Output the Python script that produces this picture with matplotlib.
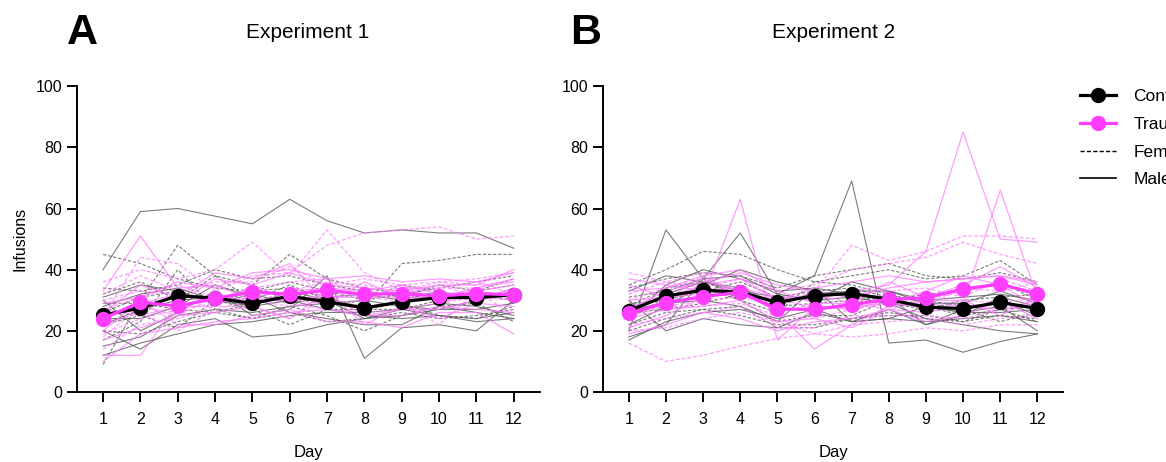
import matplotlib
matplotlib.use('Agg')
import matplotlib.pyplot as plt
from matplotlib.lines import Line2D

plt.rcParams['font.family'] = ['Liberation Sans', 'DejaVu Sans']

days = list(range(1, 13))

# Experiment 1 - group means
exp1_control_mean = [25.2, 27.4, 31.5, 30.7, 29.0, 31.3, 29.5, 27.5, 29.5, 30.9, 30.9, 31.8]
exp1_trauma_mean = [24.0, 29.4, 28.1, 30.6, 32.8, 31.9, 33.3, 31.9, 32.2, 31.4, 32.2, 31.8]

# Experiment 1 - individual animals
exp1_control_male = [
    [40, 59, 60, 57.5, 55, 63, 56, 52, 53, 52, 52, 47],
    [30, 20, 26, 33, 25, 27, 38, 11, 21, 22, 20, 30],
    [20, 14, 22, 24, 18, 19, 22, 24, 27, 29, 28, 25],
    [28, 32, 34, 30, 28, 30, 27, 25, 24, 25, 24, 26],
    [15, 18, 25, 27, 26, 28, 29, 30, 28, 27, 30, 33],
    [24, 24, 28, 35, 31, 26, 24, 22, 22, 28, 26, 24],
    [22, 27, 30, 31, 28, 33, 30, 24, 25, 27, 27, 29],
    [12, 16, 19, 22, 23, 25, 26, 26, 27, 25, 23, 24],
    [31, 35, 33, 29, 32, 29, 31, 32, 30, 33, 30, 32],
]
exp1_control_female = [
    [45, 42, 37, 34, 33, 36, 33, 30, 35, 33, 30, 34],
    [9, 30, 48, 38, 30, 35, 30, 28, 42, 43, 45, 45],
    [32, 36, 30, 38, 35, 45, 37, 34, 32, 30, 33, 37],
    [22, 25, 21, 30, 27, 22, 27, 27, 29, 25, 24, 28],
    [17, 23, 40, 27, 24, 28, 25, 20, 25, 28, 29, 23],
    [29, 29, 27, 26, 29, 33, 28, 30, 32, 34, 36, 38],
    [26, 31, 33, 29, 33, 34, 31, 27, 27, 30, 32, 30],
    [20, 19, 23, 26, 24, 26, 23, 24, 26, 24, 25, 27],
    [34, 33, 35, 40, 37, 38, 35, 33, 31, 35, 33, 35],
]
exp1_trauma_male = [
    [33, 51, 34, 35, 30, 30, 31, 31, 31, 30, 31, 30],
    [12, 12, 29, 37, 35, 39, 35, 34, 33, 35, 35, 40],
    [20, 30, 22, 22, 25, 27, 23, 23, 21, 26, 26, 19],
    [26, 35, 31, 39, 37, 42, 29, 36, 31, 31, 34, 37],
    [17, 21, 25, 26, 28, 24, 33, 22, 28, 24, 29, 28],
    [27, 25, 28, 28, 35, 30, 32, 25, 27, 27, 30, 34],
    [29, 31, 36, 34, 39, 40, 37, 38, 36, 37, 36, 39],
    [10, 19, 21, 23, 24, 26, 27, 25, 25, 28, 27, 26],
    [24, 29, 32, 29, 31, 33, 34, 33, 35, 32, 33, 35],
]
exp1_trauma_female = [
    [36, 40, 37, 40, 49, 38, 53, 39, 33, 36, 35, 36],
    [25, 44, 42, 33, 38, 39, 48, 52, 53, 54, 50, 51],
    [18, 28, 25, 31, 30, 30, 29, 30, 35, 29, 33, 31],
    [30, 33, 32, 30, 34, 36, 37, 30, 34, 34, 34, 36],
    [14, 22, 24, 28, 28, 24, 31, 32, 29, 22, 33, 25],
    [22, 26, 20, 27, 30, 28, 30, 33, 32, 35, 31, 33],
    [32, 38, 33, 36, 36, 41, 35, 37, 35, 36, 37, 39],
    [19, 24, 27, 29, 31, 29, 27, 26, 27, 29, 31, 31],
    [27, 31, 35, 31, 29, 33, 36, 35, 32, 34, 36, 32],
]

# Experiment 2 - group means
exp2_control_mean = [26.6, 31.4, 33.3, 32.6, 29.3, 31.5, 32.2, 30.3, 27.7, 27.3, 29.3, 27.3]
exp2_trauma_mean = [25.7, 29.2, 31.2, 32.6, 27.1, 27.0, 28.6, 30.3, 30.8, 33.7, 35.3, 32.0]

# Experiment 2 - individual animals
exp2_control_male = [
    [20, 53, 37, 38, 32, 38, 69, 16, 17, 13, 16.5, 19],
    [18, 22, 37, 52, 32, 30, 31, 29, 28, 26, 26, 27],
    [27, 29, 30, 28, 23, 34, 32, 31, 22, 27, 30, 25],
    [24, 35, 40, 37, 33, 34, 23, 27, 22, 25, 31, 28],
    [30, 20, 24, 22, 21, 26, 23, 24, 28, 26, 28, 20],
    [33, 38, 36, 33, 31, 30, 36, 33, 29, 29, 33, 29],
    [22, 28, 35, 40, 36, 33, 31, 29, 24, 22, 20, 19],
    [26, 32, 36, 34, 29, 32, 33, 33, 30, 31, 32, 30],
    [17, 23, 26, 27, 24, 27, 23, 24, 23, 24, 25, 23],
]
exp2_control_female = [
    [35, 40, 46, 45, 40, 36, 38, 40, 37, 38, 43, 35],
    [28, 34, 36, 32, 28, 33, 31, 30, 28, 25, 27, 23],
    [24, 31, 34, 30, 23, 25, 25, 30, 32, 33, 36, 30],
    [31, 33, 37, 30, 26, 36, 35, 32, 29, 27, 23, 26],
    [22, 26, 27, 28, 21, 21, 24, 26, 24, 23, 27, 28],
    [26, 27, 29, 32, 28, 29, 30, 29, 27, 30, 31, 32],
    [34, 37, 39, 38, 34, 38, 40, 42, 38, 37, 39, 36],
    [20, 24, 27, 25, 22, 22, 24, 25, 25, 23, 25, 24],
    [29, 30, 33, 36, 31, 33, 34, 31, 30, 28, 29, 27],
]
exp2_trauma_male = [
    [25, 30, 38, 31, 31, 30, 33, 35, 46, 85, 50, 49],
    [21, 25, 31, 63, 17, 28, 27, 30, 27, 29, 66, 31],
    [30, 31, 32, 33, 26, 14, 22, 28, 30, 30, 25, 31],
    [37, 35, 33, 34, 31, 27, 28, 29, 33, 38, 35, 28],
    [24, 27, 28, 30, 23, 24, 21, 27, 23, 25, 30, 24],
    [33, 34, 38, 40, 33, 29, 29, 36, 31, 35, 41, 34],
    [27, 33, 36, 39, 35, 33, 31, 34, 36, 37, 38, 36],
    [19, 22, 26, 24, 20, 23, 24, 27, 26, 28, 27, 29],
    [35, 31, 35, 37, 30, 34, 36, 38, 36, 37, 38, 35],
]
exp2_trauma_female = [
    [16, 10, 12, 15, 17.5, 19, 18, 19, 21, 20, 22, 22],
    [28, 31, 33, 35, 28, 33, 48, 43, 46, 51, 51, 50],
    [32, 36, 34, 37, 33, 35, 40, 42, 44, 49, 45, 42],
    [26, 28, 30, 31, 28, 26, 30, 32, 28, 34, 33, 36],
    [39, 36, 39, 38, 30, 32, 29, 27, 30, 33, 35, 33],
    [22, 24, 26, 28, 21, 21, 25, 25, 25, 24, 27, 30],
    [30, 34, 37, 33, 26, 29, 32, 33, 34, 31, 37, 33],
    [25, 28, 28, 29, 25, 24, 27, 29, 28, 30, 29, 31],
    [20, 21, 24, 26, 23, 19, 22, 23, 24, 22, 24, 25],
]

grey = '#5a5a5a'
pink_light = '#ff7bff'
magenta = '#ff3dff'
dash = (0, (3, 1.6))

fig = plt.figure(figsize=(11.66, 4.62), dpi=100)
ax_a = fig.add_axes([0.066, 0.1515, 0.397, 0.662])
ax_b = fig.add_axes([0.517, 0.1515, 0.395, 0.662])

panels = [
    (ax_a, exp1_control_male, exp1_control_female, exp1_trauma_male, exp1_trauma_female,
     exp1_control_mean, exp1_trauma_mean),
    (ax_b, exp2_control_male, exp2_control_female, exp2_trauma_male, exp2_trauma_female,
     exp2_control_mean, exp2_trauma_mean),
]

for ax, cm, cf, tm, tf, c_mean, t_mean in panels:
    for row in cm:
        ax.plot(days, row, color=grey, lw=0.8, alpha=0.8)
    for row in cf:
        ax.plot(days, row, color=grey, lw=0.8, alpha=0.8, linestyle=dash)
    for row in tm:
        ax.plot(days, row, color=pink_light, lw=0.9, alpha=0.75)
    for row in tf:
        ax.plot(days, row, color=pink_light, lw=0.9, alpha=0.75, linestyle=dash)
    ax.plot(days, c_mean, color='black', lw=2.3, marker='o', markersize=10, zorder=5)
    ax.plot(days, t_mean, color=magenta, lw=2.3, marker='o', markersize=10, zorder=6)

    ax.set_xlim(0.3, 12.7)
    ax.set_ylim(0, 100)
    ax.set_xticks(days)
    ax.set_yticks([0, 20, 40, 60, 80, 100])
    ax.spines['top'].set_visible(False)
    ax.spines['right'].set_visible(False)
    for s in ('left', 'bottom'):
        ax.spines[s].set_linewidth(1.4)
    ax.tick_params(direction='out', length=7.5, width=1.4, labelsize=11.5, pad=3)
    ax.tick_params(axis='x', pad=7)
    ax.set_xlabel('Day', fontsize=12, labelpad=13)

ax_a.set_ylabel('Infusions', fontsize=11.5, labelpad=6)

fig.text(0.264, 0.929, 'Experiment 1', ha='center', va='center', fontsize=15)
fig.text(0.7145, 0.929, 'Experiment 2', ha='center', va='center', fontsize=15)
fig.text(0.071, 0.929, 'A', ha='center', va='center', fontsize=31, fontweight='bold')
fig.text(0.502, 0.929, 'B', ha='center', va='center', fontsize=31, fontweight='bold')

handles = [
    Line2D([], [], color='black', lw=2.3, marker='o', markersize=10),
    Line2D([], [], color=magenta, lw=2.3, marker='o', markersize=10),
    Line2D([], [], color='black', lw=1.0, linestyle=dash),
    Line2D([], [], color='black', lw=1.2),
]
fig.legend(handles, ['Control', 'Trauma', 'Female', 'Male'],
           loc='upper left', bbox_to_anchor=(0.926, 0.807), frameon=False,
           fontsize=12.5, handlelength=2.1, handletextpad=1.0,
           labelspacing=0.72, borderpad=0, borderaxespad=0)

fig.savefig('out.png', dpi=100)
